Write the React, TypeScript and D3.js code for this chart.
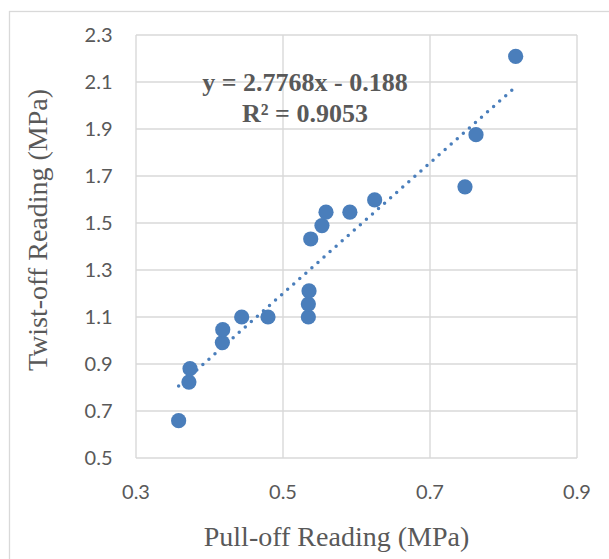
import React from "react";
import * as d3 from "d3";

const pullOff = [0.358, 0.372, 0.3735, 0.4175, 0.418, 0.4438, 0.4796, 0.5345, 0.5345, 0.5354, 0.5377, 0.553, 0.5585, 0.591, 0.6247, 0.7476, 0.7626, 0.8166];
const twistOff = [0.659, 0.823, 0.880, 0.991, 1.046, 1.100, 1.100, 1.100, 1.155, 1.211, 1.432, 1.489, 1.546, 1.546, 1.598, 1.654, 1.876, 2.209];
const xTicks = [0.3, 0.5, 0.7, 0.9];
const yTicks = [0.5, 0.7, 0.9, 1.1, 1.3, 1.5, 1.7, 1.9, 2.1, 2.3];
const slope = 2.7768;
const intercept = -0.188;
const eqText = "y = 2.7768x - 0.188";
const r2Text = "R² = 0.9053";
const xTitle = "Pull-off Reading (MPa)";
const yTitle = "Twist-off Reading (MPa)";

export default function App() {
  const W = 609, H = 559;
  const x = d3.scaleLinear().domain([0.3, 0.9]).range([136, 577]);
  const y = d3.scaleLinear().domain([0.5, 2.3]).range([458, 35]);
  const xmin = d3.min(pullOff)!, xmax = d3.max(pullOff)!;
  const trend = d3.line<number>().x(d => x(d)).y(d => y(slope * d + intercept));
  const grid = "#d9d9d9";
  const txt = "#595959";
  const blue = "#4a7ebb";
  const tickFont = "Lato, 'Open Sans', sans-serif";
  return (
    <svg width={W} height={H} style={{ position: "absolute", left: 0, top: 0, background: "#fff" }}>
      <rect x={9.5} y={11.5} width={640} height={600} fill="#fff" stroke={grid} strokeWidth={1.3} />
      {yTicks.map(t => (
        <line key={"gy" + t} x1={x(0.3)} x2={x(0.9)} y1={y(t)} y2={y(t)} stroke={grid} strokeWidth={1.4} />
      ))}
      {xTicks.map(t => (
        <line key={"gx" + t} x1={x(t)} x2={x(t)} y1={y(0.5)} y2={y(2.3)} stroke={grid} strokeWidth={1.4} />
      ))}
      {yTicks.map(t => (
        <text key={"ty" + t} x={112.5} y={y(t)} dy="0.36em" textAnchor="end" fontFamily={tickFont} fontSize={20} fill={txt}>
          {t.toFixed(1)}
        </text>
      ))}
      {xTicks.map(t => (
        <text key={"tx" + t} x={x(t)} y={499} textAnchor="middle" fontFamily={tickFont} fontSize={20} fill={txt}>
          {t.toFixed(1)}
        </text>
      ))}
      <path d={trend([xmin, xmax]) || ""} fill="none" stroke={blue} strokeWidth={3.5} strokeDasharray="0 8.1" strokeLinecap="round" />
      {pullOff.map((v, i) => (
        <circle key={"p" + i} cx={x(v)} cy={y(twistOff[i])} r={7.6} fill={blue} />
      ))}
      <text x={305} y={90.5} textAnchor="middle" fontFamily="'Liberation Serif', 'Times New Roman', serif" fontWeight="bold" fontSize={26} fill={txt}>
        {eqText}
      </text>
      <text x={305} y={122} textAnchor="middle" fontFamily="'Liberation Serif', 'Times New Roman', serif" fontWeight="bold" fontSize={26} fill={txt}>
        {r2Text}
      </text>
      <text x={336.5} y={546} textAnchor="middle" fontFamily="'Liberation Serif', 'Times New Roman', serif" fontSize={28} fill={txt}>
        {xTitle}
      </text>
      <text transform={`translate(47,230) rotate(-90)`} textAnchor="middle" fontFamily="'Liberation Serif', 'Times New Roman', serif" fontSize={28} fill={txt}>
        {yTitle}
      </text>
    </svg>
  );
}
